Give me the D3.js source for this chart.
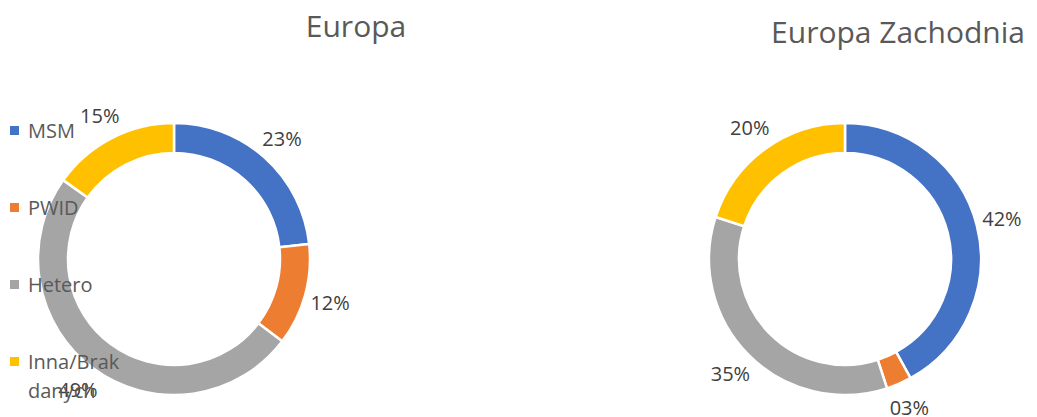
<!DOCTYPE html>
<html>
<head>
<meta charset="utf-8">
<script src="https://cdn.jsdelivr.net/npm/d3@7"></script>
<style>
  body { margin: 0; background: #fff; }
  text { font-family: "Open Sans", "Noto Sans", sans-serif; }
</style>
</head>
<body>
<div id="chart"></div>
<script>
// categories and values
var categories = ["MSM", "PWID", "Hetero", "Inna/Brak danych"];
var colors = ["#4472c4", "#ed7d31", "#a5a5a5", "#ffc000"];
var europa = [23, 12, 49, 15];
var europaZach = [42, 3, 35, 20];
var labelsEuropa = ["23%", "12%", "49%", "15%"];
var labelsZach = ["42%", "03%", "35%", "20%"];

var svg = d3.select("#chart").append("svg")
    .attr("width", 1037)
    .attr("height", 417);

var color = d3.scaleOrdinal().domain(categories).range(colors);

var pie = d3.pie().sort(null).value(function(d) { return d.v; });
var arc = d3.arc().innerRadius(106).outerRadius(136);
var labelArc = d3.arc().innerRadius(162).outerRadius(162);

function donut(cx, cy, values, labels, title, tx, ty) {
  var g = svg.append("g").attr("transform", "translate(" + cx + "," + cy + ")");
  var data = values.map(function(v, i) { return {c: categories[i], v: v, l: labels[i]}; });
  var arcs = pie(data);

  g.selectAll("path").data(arcs).enter().append("path")
      .attr("d", arc)
      .attr("fill", function(d) { return color(d.data.c); })
      .attr("stroke", "#fff")
      .attr("stroke-width", 2.5);

  g.selectAll("text.lbl").data(arcs).enter().append("text")
      .attr("class", "lbl")
      .attr("transform", function(d) { return "translate(" + labelArc.centroid(d) + ")"; })
      .attr("text-anchor", "middle")
      .attr("dominant-baseline", "central")
      .style("font-size", "20px")
      .style("fill", "#404040")
      .text(function(d) { return d.data.l; });

  svg.append("text")
      .attr("x", tx).attr("y", ty)
      .attr("text-anchor", "middle")
      .style("font-size", "30px")
      .style("fill", "#595959")
      .text(title);
}

donut(174, 259, europa, labelsEuropa, "Europa", 356, 37);
donut(845, 259, europaZach, labelsZach, "Europa Zachodnia", 898, 43);

// legend (drawn on top, as in the original)
var legend = svg.append("g");
var item = legend.selectAll("g").data(categories).enter().append("g")
    .attr("transform", function(d, i) { return "translate(10," + (130 + i * 77) + ")"; });

item.append("rect")
    .attr("x", 0).attr("y", -4)
    .attr("width", 9).attr("height", 9)
    .attr("fill", function(d) { return color(d); });

item.append("text")
    .attr("x", 18)
    .attr("dominant-baseline", "central")
    .style("font-size", "20px")
    .style("fill", "#595959")
    .each(function(d) {
      var words = d === "Inna/Brak danych" ? ["Inna/Brak", "danych"] : [d];
      var t = d3.select(this);
      words.forEach(function(w, j) {
        t.append("tspan").attr("x", 18).attr("dy", j ? 29 : 0).text(w);
      });
    });
</script>
</body>
</html>
